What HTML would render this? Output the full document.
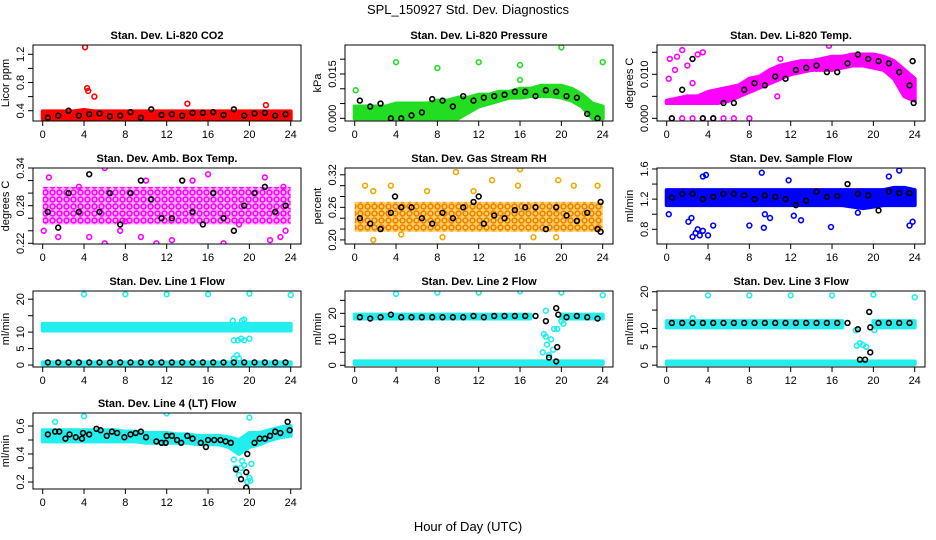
<!DOCTYPE html>
<html><head><meta charset="utf-8"><style>
body{margin:0;background:#fff;}
svg{display:block;font-family:"Liberation Sans",sans-serif;}
</style></head><body>
<svg id="c" width="936" height="540" viewBox="0 0 936 540">
<defs>
<pattern id="patM" width="7" height="7" patternUnits="userSpaceOnUse"><rect width="7" height="7" fill="#ffb0ff"/><circle cx="3.5" cy="3.5" r="2.4" fill="none" stroke="#ff00ff" stroke-width="1.6"/></pattern>
<pattern id="patO" width="7" height="7" patternUnits="userSpaceOnUse"><rect width="7" height="7" fill="#ffd060"/><circle cx="3.5" cy="3.5" r="2.4" fill="none" stroke="#f08000" stroke-width="1.6"/></pattern>
</defs>
<text x="468" y="14" text-anchor="middle" font-size="13">SPL_150927  Std. Dev. Diagnostics</text>
<text x="468" y="531" text-anchor="middle" font-size="13">Hour of Day (UTC)</text>
</svg>
<script>
const hourTicks=[0,4,8,12,16,20,24];
const titles=["Stan. Dev. Li-820 CO2","Stan. Dev. Li-820 Pressure","Stan. Dev. Li-820 Temp.","Stan. Dev. Amb. Box Temp.","Stan. Dev. Gas Stream RH","Stan. Dev. Sample Flow","Stan. Dev. Line 1 Flow","Stan. Dev. Line 2 Flow","Stan. Dev. Line 3 Flow","Stan. Dev. Line 4 (LT) Flow"];
const units=["Licor ppm","kPa","degrees C","degrees C","percent","ml/min","ml/min","ml/min","ml/min","ml/min"];
const colors=["#ff0000","#22dd22","#ff00ff","#ff00ff","#f0a800","#0000ff","#22eeee","#22eeee","#22eeee","#22eeee"];
const bandFills=["#ff0000","#22dd22","#ff00ff","url(#patM)","url(#patO)","#0000ff","#22eeee","#22eeee","#22eeee","#22eeee"];
const yDomains=[[0.254,1.332],[-0.0009,0.0248],[-0.0006,0.01666],[0.2189,0.34],[0.1925,0.3325],[0.605,1.613],[-0.6,22.5],[-0.65,28.6],[-0.5,20.2],[0.15,0.693]];
const yTickMarks=[[0.4,0.6,0.8,1.0,1.2],[0,0.005,0.01,0.015,0.02],[0,0.005,0.01,0.015],[0.22,0.24,0.26,0.28,0.30,0.32,0.34],[0.20,0.22,0.24,0.26,0.28,0.30,0.32],[0.8,1.0,1.2,1.4,1.6],[0,5,10,15,20],[0,5,10,15,20,25],[0,5,10,15,20],[0.2,0.3,0.4,0.5,0.6]];
const yTickLabels=[["0.4","0.8","1.2"],["0.000","0.015"],["0.000","0.010"],["0.22","0.28","0.34"],["0.20","0.26","0.32"],["0.8","1.2","1.6"],["0","5","10","20"],["0","10","20"],["0","5","10","20"],["0.2","0.4","0.6"]];
const bandHours=[0,1,2,3,4,5,6,7,8,9,10,11,12,13,14,15,16,17,18,19,20,21,22,23,24];
const bandLo=[
[.28,.28,.28,.28,.29,.28,.28,.28,.28,.28,.28,.28,.28,.28,.28,.28,.28,.28,.28,.28,.28,.28,.28,.28,.28],
[0,0,0,0,0,0,0,0,0,0,0,.002,.004,.005,.006,.007,.007,.0075,.0075,.0075,.007,.006,.004,0,0],
[.0035,.0035,.0035,.0035,.0035,.0035,.004,.005,.006,.007,.008,.009,.010,.0105,.011,.011,.011,.0115,.012,.012,.0115,.011,.009,.005,.004],
[.25,.25,.25,.25,.25,.25,.25,.25,.25,.25,.25,.25,.25,.25,.25,.25,.25,.25,.25,.25,.25,.25,.25,.25,.25],
[.215,.215,.215,.215,.215,.215,.215,.215,.215,.215,.215,.215,.215,.215,.215,.215,.215,.215,.215,.215,.215,.215,.215,.215,.215],
[1.12,1.12,1.12,1.12,1.12,1.12,1.12,1.12,1.12,1.12,1.12,1.12,1.12,1.12,1.12,1.12,1.12,1.12,1.1,1.08,1.1,1.12,1.12,1.12,1.12],
[10.5,10.5,10.5,10.5,10.5,10.5,10.5,10.5,10.5,10.5,10.5,10.5,10.5,10.5,10.5,10.5,10.5,10.5,10.5,10.5,10.5,10.5,10.5,10.5,10.5],
[18,18,18,18,18,18,18,18,18,18,18,18,18,18,18,18,18,18,null,null,18,18,18,18,18],
[10.3,10.3,10.3,10.3,10.3,10.3,10.3,10.3,10.3,10.3,10.3,10.3,10.3,10.3,10.3,10.3,10.3,10.3,null,null,10.3,10.3,10.3,10.3,10.3],
[.49,.49,.49,.49,.49,.49,.49,.49,.49,.49,.48,.48,.48,.48,.48,.47,.47,.47,.45,.40,.45,.47,.5,.52,.53]];
const bandHi=[
[.39,.39,.39,.39,.41,.39,.39,.39,.39,.39,.39,.39,.39,.39,.39,.39,.39,.39,.39,.39,.39,.39,.39,.39,.39],
[.004,.004,.004,.004,.005,.005,.005,.005,.006,.006,.007,.007,.008,.008,.009,.009,.010,.010,.011,.011,.011,.010,.008,.005,.004],
[.004,.0045,.005,.005,.006,.0065,.007,.0075,.009,.0095,.011,.012,.0125,.013,.013,.0135,.014,.014,.0145,.0145,.0145,.014,.013,.011,.009],
[.31,.31,.31,.31,.31,.31,.31,.31,.31,.31,.31,.31,.31,.31,.31,.31,.31,.31,.31,.31,.31,.31,.31,.31,.31],
[.27,.27,.27,.27,.27,.27,.27,.27,.27,.27,.27,.27,.27,.27,.27,.27,.27,.27,.27,.27,.27,.27,.27,.27,.27],
[1.32,1.32,1.32,1.32,1.32,1.32,1.32,1.32,1.32,1.32,1.32,1.32,1.32,1.32,1.32,1.32,1.32,1.32,1.32,1.32,1.32,1.32,1.35,1.35,1.32],
[12.5,12.5,12.5,12.5,12.5,12.5,12.5,12.5,12.5,12.5,12.5,12.5,12.5,12.5,12.5,12.5,12.5,12.5,12.5,12.5,12.5,12.5,12.5,12.5,12.5],
[19.5,19.5,19.5,19.5,19.5,19.5,19.5,19.5,19.5,19.5,19.5,19.5,19.5,19.5,19.5,19.5,19.5,19.5,null,null,19.5,19.5,19.5,19.5,19.5],
[12,12,12,12,12,12,12,12,12,12,12,12,12,12,12,12,12,12,null,null,12,12,12,12,12],
[.57,.57,.57,.57,.57,.57,.57,.57,.56,.56,.55,.55,.55,.54,.54,.53,.53,.53,.52,.50,.55,.55,.57,.59,.60]];
const lowBandLo=[null,null,null,null,null,null,0.2,0.5,0.3,null];
const lowBandHi=[null,null,null,null,null,null,0.8,1.5,1.0,null];
const outX=[
[4.1,4.3,4.4,5,14,21.6],
[0.1,4,8,12,16,16,20,24],
[0.2,0.3,1,1.5,2,0.8,3,3.5,2.5,8,15.7,0.5,1.5,2.5,3.5,4.5,5.5,6.5,10.7,11],
[0.1,0.6,1.5,3.5,4.5,6,6,7.5,9.5,11,12.5,14.5,16,17.5,19,21.5,22,23,23.5,23.3,10,8],
[1,1.8,3.5,9.8,13.3,16,15.8,19.7,21.2,23.5,1.8,4.5,8.5,17.3,19.5,7,11.5],
[2.5,2.8,3.2,3,3.5,2.1,2.4,4.5,4,3.5,3.8,8,9.2,9.4,9.5,10,11.8,13,15.9,18.5,22.5,21.5,23.5,23.8,0.2,12.3],
[4,8,12,16,20,24,18.4,19.3,19.5,18.5,18.9,19.2,19.5,20,18.8,18.5,19],
[4,8,12,16,20,24,18.3,18.5,18.2,18.6,19,19.3,19.6,20,18.8,19.2,18.5,20.2],
[4,8,12,16,20,24,18.4,18.7,19,19.3,18.3,20.1,2.5],
[1.2,4,12,20,18.5,18.7,19,19.3,19.5,19.8,20.2,20.1,20,19.2]];
const outY=[
[1.3,0.72,0.68,0.6,0.5,0.48],
[.0095,.019,.017,.019,.018,.013,.024,.019],
[.009,.0135,.014,.0155,.012,.011,.0145,.015,.008,0,.0165,0,0,0,0,0,0,0,.005,.0135],
[.24,.325,.23,.31,.23,.34,.22,.24,.23,.22,.225,.32,.33,.22,.25,.325,.225,.23,.24,.31,.32,.255],
[.30,.29,.30,.325,.31,.33,.30,.31,.30,.30,.20,.21,.205,.205,.205,.29,.29],
[0.7,0.75,0.72,0.8,0.78,0.9,0.95,0.85,0.72,1.5,1.52,0.85,1.55,0.82,1.0,0.95,1.45,0.92,0.83,1.02,1.58,1.5,0.85,0.9,1.0,0.98],
[21.5,21.5,21.5,21.5,21.7,21.3,13.5,13.5,13.8,7.5,7.5,8,7.5,8,3,2,2],
[27.5,28,28,28.5,28,27,12,11,5,8,10,14,14,17,4,6,21,16],
[19,19,19,19,19.2,18.5,5.3,6,5.5,5,9.5,9.5,12.8],
[.63,.67,.69,.66,.36,.30,.25,.35,.32,.20,.33,.21,.23,.30]];
const blackX=[
[0.5,1.5,2.5,3.5,4.5,5.5,6.5,7.5,8.5,9.5,10.5,11.5,12.5,13.5,14.5,15.5,16.5,17.5,18.5,19.5,20.5,21.5,22.5,23.5],
[0.5,1.5,2.5,3.5,4.5,5.5,6.5,7.5,8.5,9.5,10.5,11.5,12.5,13.5,14.5,15.5,16.5,17.5,18.5,19.5,20.5,21.5,22.5,23.5],
[0.5,1.5,2.5,3.5,4.5,5.5,6.5,7.5,8.5,9.5,10.5,11.5,12.5,13.5,14.5,15.5,16.5,17.5,18.5,19.5,20.5,21.5,22.5,23.5,23.8,23.9],
[0.5,1.5,2.5,3.5,4.5,5.5,6.5,7.5,8.5,9.5,10.5,11.5,12.5,13.5,14.5,15.5,16.5,17.5,18.5,19.5,20.5,21.5,22.5,23.5],
[0.5,1.5,2.5,3.5,4.5,5.5,6.5,7.5,8.5,9.5,10.5,11.5,12.5,13.5,14.5,15.5,16.5,17.5,18.5,19.5,20.5,21.5,22.5,23.5,3.9,12,23.8,23.8],
[0.5,1.5,2.5,3.5,4.5,5.5,6.5,7.5,8.5,9.5,10.5,11.5,12.5,13.5,14.5,15.5,16.5,17.5,18.5,19.5,20.5,21.5,22.5,23.5],
[0.5,1.5,2.5,3.5,4.5,5.5,6.5,7.5,8.5,9.5,10.5,11.5,12.5,13.5,14.5,15.5,16.5,17.5,18.5,19.5,20.5,21.5,22.5,23.5],
[0.5,1.5,2.5,3.5,4.5,5.5,6.5,7.5,8.5,9.5,10.5,11.5,12.5,13.5,14.5,15.5,16.5,17.5,18.5,19.5,20.5,21.5,22.5,23.5,18.8,19.5,19.6,19.7],
[0.5,1.5,2.5,3.5,4.5,5.5,6.5,7.5,8.5,9.5,10.5,11.5,12.5,13.5,14.5,15.5,16.5,17.5,18.5,18.7,19.2,19.6,19.7,19.7,20.5,21.5,22.5,23.5],
[0.5,1.2,1.6,2.2,2.6,3.2,3.8,3.9,4.5,5.2,5.6,6.2,6.7,7.2,7.9,8.5,9,9.5,10,11,11.5,11.9,12,12.5,13,13.4,14,14.5,15.3,15.8,16,16.6,17.2,17.7,18.2,18.7,19.2,19.7,19.7,19.8,20.5,21,21.5,22,22.5,23,23.7,23.9]];
const blackY=[
[.30,.33,.40,.33,.35,.36,.32,.33,.38,.30,.42,.34,.35,.33,.37,.37,.38,.34,.42,.33,.36,.37,.33,.35],
[.006,.004,.005,0,0,.001,.002,.0065,.006,.004,.0075,.006,.007,.0075,.008,.009,.009,.0075,.0095,.009,.0075,.007,.0015,0],
[0,.0065,.0135,0,0,.0035,.0035,.0065,.008,.0075,.0095,.009,.011,.0115,.012,.0105,.0105,.0125,.0145,.0135,.013,.0125,.0105,.0075,.013,.0035],
[.27,.245,.30,.27,.33,.27,.30,.25,.30,.32,.29,.26,.26,.32,.27,.25,.30,.26,.24,.28,.30,.31,.27,.28],
[.24,.23,.22,.25,.26,.26,.24,.23,.25,.24,.26,.27,.23,.245,.24,.255,.26,.26,.22,.26,.245,.235,.25,.22,.28,.28,.215,.27],
[1.22,1.27,1.27,1.2,1.23,1.27,1.27,1.25,1.2,1.25,1.23,1.2,1.12,1.18,1.3,1.23,1.24,1.4,1.27,1.25,1.05,1.3,1.28,1.28],
[.8,.8,.8,.8,.8,.8,.8,.8,.8,.8,.8,.8,.8,.8,.8,.8,.8,.8,.8,.8,.8,.8,.8,.8],
[18.5,18,18.5,19.5,18.5,18.5,18.5,18.5,18.5,18.5,18.5,19,18.5,19,19,19,19,19,17,22,18.5,19,18.5,18,3,1.5,7,19.5],
[11.5,11.5,11.5,11.5,11.5,11.5,11.5,11.5,11.5,11.5,11.5,11.5,11.5,11.5,11.5,11.5,11.5,11.5,9.8,1.5,1.5,14.5,10.3,3.5,11.5,11.5,11.5,11.5],
[.54,.56,.56,.51,.54,.52,.51,.55,.54,.58,.57,.53,.56,.55,.52,.54,.55,.56,.52,.49,.48,.48,.53,.53,.50,.48,.53,.51,.48,.45,.5,.5,.5,.49,.48,.29,.22,.16,.27,.40,.48,.51,.51,.53,.56,.55,.63,.57]];

const NS="http://www.w3.org/2000/svg";
const svg=document.getElementById('c');
const colLeft=[33,345,657], rowTop=[45,168,291,413], W=268, H=76;
function mk(tag,attrs,parent){const e=document.createElementNS(NS,tag);for(const k in attrs)e.setAttribute(k,attrs[k]);parent.appendChild(e);return e;}
for(let p=0;p<10;p++){
  const L=colLeft[p%3], T=rowTop[Math.floor(p/3)];
  const g=mk('g',{},svg);
  
  
  const xs=h=>L+9.7+h*248/24;
  const [y0,y1]=yDomains[p];
  const ys=v=>T+H-(v-y0)/(y1-y0)*H;
  const clip='cl'+p;
  const cp=mk('clipPath',{id:clip},g); mk('rect',{x:L,y:T,width:W,height:H},cp);
  const data=mk('g',{'clip-path':'url(#'+clip+')'},g);
  const col=colors[p];
  const patterned=bandFills[p].startsWith('url');
  function band(lo,hi,name){
    let seg=[];
    const segs=[];
    for(let i=0;i<bandHours.length;i++){
      if(lo[i]==null){if(seg.length)segs.push(seg);seg=[];}else seg.push(i);
    }
    if(seg.length)segs.push(seg);
    segs.forEach(s=>{
      const top=s.map(i=>xs(bandHours[i])+','+ys(hi[i]));
      const bot=s.slice().reverse().map(i=>xs(bandHours[i])+','+ys(lo[i]));
      const poly=mk('polygon',{points:top.concat(bot).join(' '),fill:bandFills[p],stroke:patterned?'none':col,'stroke-width':4,'stroke-linejoin':'round'},data);
      
      
    });
  }
  band(bandLo[p],bandHi[p],'dense-band');
  if(lowBandLo[p]!=null){
    const lo=bandHours.map(()=>lowBandLo[p]), hi=bandHours.map(()=>lowBandHi[p]);
    band(lo,hi,'low-dense-band');
  }
  outX[p].forEach((x,i)=>{
    const c=mk('circle',{cx:xs(x),cy:ys(outY[p][i]),r:2.4,fill:'none',stroke:col,'stroke-width':1.6},data);
    
    
  });
  blackX[p].forEach((x,i)=>{
    const c=mk('circle',{cx:xs(x),cy:ys(blackY[p][i]),r:2.4,fill:'none',stroke:'#000','stroke-width':1.6},data);
    
    
  });
  const box=mk('rect',{x:L,y:T,width:W,height:H,fill:'none',stroke:'#000','stroke-width':1},g);
  
  
  const t=mk('text',{x:L+W/2,y:T-6,'text-anchor':'middle','font-size':11,'font-weight':'bold'},g);
  t.textContent=titles[p];
  
  
  mk('line',{x1:xs(0),x2:xs(24),y1:T+H,y2:T+H,stroke:'#000'},g);
  hourTicks.forEach(h=>{
    mk('line',{x1:xs(h),x2:xs(h),y1:T+H,y2:T+H+5,stroke:'#000'},g);
    const tl=mk('text',{x:xs(h),y:T+H+17,'text-anchor':'middle','font-size':11},g);
    tl.textContent=h;
    
    
  });
  yTickMarks[p].forEach(v=>mk('line',{x1:L-5,x2:L,y1:ys(v),y2:ys(v),stroke:'#000'},g));
  yTickLabels[p].forEach(s=>{
    const yy=ys(parseFloat(s));
    const tl=mk('text',{x:L-9,y:yy,'text-anchor':'middle','font-size':11,transform:'rotate(-90 '+(L-9)+' '+yy+')'},g);
    tl.textContent=s;
    
    
  });
  const yt=mk('text',{x:L-24,y:T+H/2,'text-anchor':'middle','font-size':11,transform:'rotate(-90 '+(L-24)+' '+(T+H/2)+')'},g);
  yt.textContent=units[p];
  
  
}
</script>
</body></html>
